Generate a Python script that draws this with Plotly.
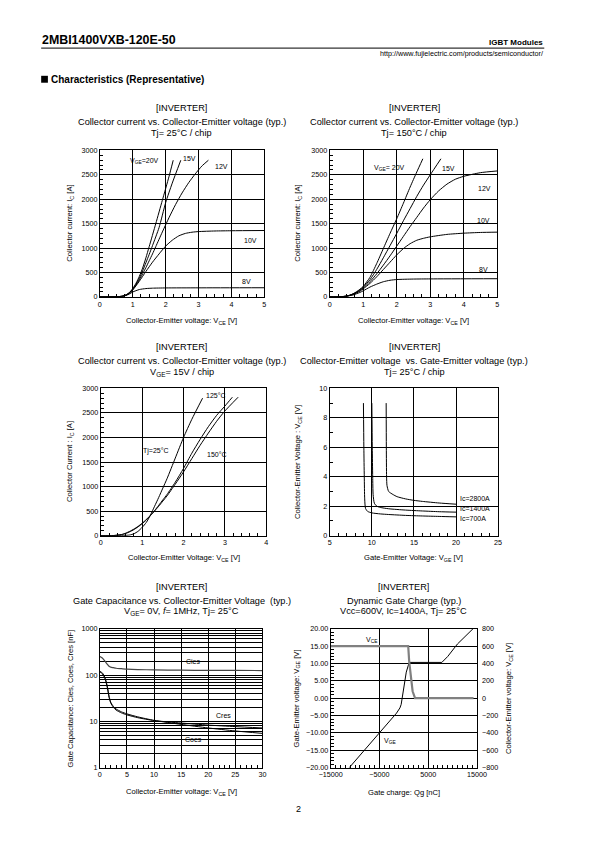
import plotly.graph_objects as go

# page is 595x842; the HTML body has an 8px margin, so the figure is 16px smaller
PAGE_W, PAGE_H = 595, 842
OFF = 8
FW, FH = PAGE_W - 2 * OFF, PAGE_H - 2 * OFF
FONT = "Arial, Liberation Sans, sans-serif"

# ---------------- data ----------------
# Plot 1: Ic vs Vce, Tj=25C
p1_20_x = [0, 0.5, 0.7, 0.8, 0.9, 1.0, 1.1, 1.2, 1.3, 1.4, 1.5, 1.7, 1.9, 2.1, 2.23]
p1_20_y = [0, 3, 15, 40, 90, 170, 280, 420, 590, 800, 1030, 1500, 1980, 2460, 2800]
p1_15_x = [0, 0.5, 0.7, 0.8, 0.9, 1.0, 1.1, 1.2, 1.3, 1.4, 1.5, 1.6, 1.8, 2.0, 2.2, 2.46]
p1_15_y = [0, 3, 15, 40, 85, 160, 260, 380, 530, 700, 870, 1050, 1420, 1930, 2330, 2800]
p1_12_x = [0, 0.5, 0.7, 0.8, 0.9, 1.0, 1.1, 1.2, 1.3, 1.4, 1.5, 1.6, 1.7, 1.9, 2.1, 2.3, 2.5, 2.7, 2.9, 3.1, 3.3]
p1_12_y = [0, 3, 14, 38, 80, 150, 240, 350, 470, 600, 740, 880, 1030, 1330, 1620, 1890, 2130, 2340, 2520, 2680, 2800]
p1_10_x = [0, 0.5, 0.7, 0.8, 0.9, 1.0, 1.2, 1.4, 1.6, 1.8, 2.0, 2.2, 2.4, 2.6, 2.8, 3.0, 3.5, 4.0, 5.0]
p1_10_y = [0, 3, 13, 35, 75, 140, 320, 520, 710, 880, 1040, 1160, 1250, 1300, 1325, 1338, 1350, 1355, 1360]
p1_8_x = [0, 0.5, 0.7, 0.8, 0.9, 1.0, 1.2, 1.4, 1.6, 2.0, 3.0, 5.0]
p1_8_y = [0, 3, 12, 30, 60, 100, 150, 170, 178, 183, 185, 187]

# Plot 2: Ic vs Vce, Tj=150C
p2_20_x = [0, 0.3, 0.5, 0.6, 0.7, 0.8, 0.9, 1.0, 1.2, 1.4, 1.6, 1.8, 2.0, 2.2, 2.4, 2.6, 2.78]
p2_20_y = [0, 3, 15, 35, 65, 105, 155, 215, 400, 680, 990, 1300, 1600, 1920, 2250, 2560, 2830]
p2_15_x = [0, 0.3, 0.5, 0.6, 0.7, 0.8, 0.9, 1.0, 1.2, 1.4, 1.6, 1.8, 2.0, 2.2, 2.4, 2.6, 2.8, 3.0, 3.32]
p2_15_y = [0, 3, 15, 33, 60, 98, 145, 200, 350, 560, 800, 1050, 1300, 1560, 1810, 2060, 2290, 2500, 2830]
p2_12_x = [0, 0.3, 0.5, 0.7, 0.9, 1.0, 1.2, 1.4, 1.6, 1.8, 2.0, 2.2, 2.4, 2.6, 2.8, 3.0, 3.25, 3.5, 3.75, 4.0, 4.5, 5.0]
p2_12_y = [0, 3, 14, 55, 130, 180, 310, 470, 650, 840, 1040, 1240, 1440, 1630, 1820, 1990, 2170, 2310, 2410, 2470, 2545, 2580]
p2_10_x = [0, 0.3, 0.5, 0.7, 0.9, 1.0, 1.2, 1.4, 1.6, 1.8, 2.0, 2.2, 2.4, 2.6, 2.8, 3.0, 3.5, 4.0, 4.5, 5.0]
p2_10_y = [0, 3, 13, 50, 115, 165, 275, 410, 560, 710, 860, 990, 1090, 1160, 1200, 1230, 1280, 1305, 1320, 1326]
p2_8_x = [0, 0.3, 0.5, 0.7, 0.9, 1.0, 1.2, 1.4, 1.6, 1.8, 2.0, 2.5, 3.0, 5.0]
p2_8_y = [0, 3, 12, 40, 90, 125, 200, 260, 310, 340, 355, 365, 368, 372]

# Plot 3: Ic vs Vce, VGE=15V
p3_25_x = [0, 0.5, 0.7, 0.8, 0.9, 1.0, 1.1, 1.2, 1.3, 1.4, 1.5, 1.6, 1.8, 2.0, 2.2, 2.46]
p3_25_y = [0, 3, 15, 40, 90, 170, 270, 420, 600, 780, 970, 1160, 1580, 2000, 2370, 2800]
p3_125_x = [0, 0.3, 0.5, 0.6, 0.7, 0.8, 0.9, 1.0, 1.1, 1.2, 1.3, 1.4, 1.5, 1.6, 1.8, 2.0, 2.2, 2.4, 2.6, 2.8, 3.0, 3.18]
p3_125_y = [0, 3, 20, 45, 80, 125, 180, 245, 320, 410, 510, 620, 730, 840, 1090, 1370, 1680, 1960, 2220, 2450, 2640, 2820]
p3_150_x = [0, 0.3, 0.5, 0.6, 0.7, 0.8, 0.9, 1.0, 1.1, 1.2, 1.3, 1.4, 1.5, 1.6, 1.8, 2.0, 2.2, 2.4, 2.6, 2.8, 3.0, 3.32]
p3_150_y = [0, 4, 25, 52, 90, 135, 190, 255, 330, 415, 505, 600, 705, 810, 1050, 1300, 1570, 1840, 2090, 2330, 2540, 2820]

# Plot 4: Vce vs Vge
p4_700_x = [9.0, 9.05, 9.1, 9.15, 9.25, 9.5, 10, 11, 12, 14, 16, 18, 20]
p4_700_y = [9.0, 6.0, 4.0, 2.5, 1.85, 1.65, 1.55, 1.48, 1.44, 1.38, 1.34, 1.31, 1.28]
p4_1400_x = [10.0, 10.05, 10.1, 10.15, 10.3, 10.6, 11, 12, 14, 16, 18, 20]
p4_1400_y = [9.0, 6.0, 4.0, 2.8, 2.2, 2.0, 1.92, 1.83, 1.74, 1.68, 1.63, 1.6]
p4_2800_x = [11.7, 11.72, 11.75, 11.8, 12.0, 12.5, 13, 14, 15, 16, 18, 20]
p4_2800_y = [9.0, 6.0, 4.0, 3.4, 3.0, 2.8, 2.65, 2.5, 2.4, 2.33, 2.22, 2.14]

# Plot 5: capacitances
p5_vce = [0, 0.5, 1, 1.4, 1.7, 2, 2.5, 3, 4, 5, 7, 10, 15, 20, 25, 30]
p5_cies = [250, 230, 195, 170, 155, 148, 144, 140, 137, 134, 131, 129, 127, 126, 125.5, 125]
p5_coes = [120, 110, 85, 55, 35, 26, 21, 18.5, 16, 14.5, 12.5, 10.5, 8.6, 7.2, 6.2, 5.5]
p5_cres = [118, 105, 80, 52, 33, 25, 20, 17.5, 15.2, 13.8, 12, 10.4, 9.2, 8.3, 7.7, 7.2]

# Plot 6: gate charge
p6_vge_q = [-11200, -5000, -2000, -1500, -800, -550, -400, 0, 500, 1100, 7800, 9000, 11000, 14200]
p6_vge_v = [-20, -10, -5, -4.3, -2.8, -1.8, -0.5, 3, 7.5, 10.3, 10.3, 12.0, 15.6, 20]
p6_vce_q = [-15000, 900, 1100, 1400, 1800, 2300, 14300]
p6_vce_v = [600, 600, 420, 250, 80, 0, 0]

# ---------------- layout geometry (page pixel -> paper) ----------------
def px(x):
    return (x - OFF) / FW

def py(y):
    return 1 - (y - OFF) / FH

fig = go.Figure()

def line(x, y, xa, ya, color="black", width=1.0):
    fig.add_trace(go.Scatter(x=x, y=y, mode="lines", xaxis=xa, yaxis=ya,
                             line=dict(color=color, width=width, shape="spline", smoothing=0.6),
                             showlegend=False, hoverinfo="skip"))

for xs, ys in [(p1_20_x, p1_20_y), (p1_15_x, p1_15_y), (p1_12_x, p1_12_y), (p1_10_x, p1_10_y), (p1_8_x, p1_8_y)]:
    line(xs, ys, "x", "y")
for xs, ys in [(p2_20_x, p2_20_y), (p2_15_x, p2_15_y), (p2_12_x, p2_12_y), (p2_10_x, p2_10_y), (p2_8_x, p2_8_y)]:
    line(xs, ys, "x2", "y2")
for xs, ys in [(p3_25_x, p3_25_y), (p3_125_x, p3_125_y), (p3_150_x, p3_150_y)]:
    line(xs, ys, "x3", "y3")
for xs, ys in [(p4_700_x, p4_700_y), (p4_1400_x, p4_1400_y), (p4_2800_x, p4_2800_y)]:
    line(xs, ys, "x4", "y4")
line(p5_vce, p5_cies, "x5", "y5", color="#444", width=1.2)
line(p5_vce, p5_coes, "x5", "y5")
line(p5_vce, p5_cres, "x5", "y5")
fig.add_trace(go.Scatter(x=p6_vce_q, y=p6_vce_v, mode="lines", xaxis="x6", yaxis="y7",
                         line=dict(color="#808080", width=2.2), showlegend=False, hoverinfo="skip"))
fig.add_trace(go.Scatter(x=p6_vge_q, y=p6_vge_v, mode="lines", xaxis="x6", yaxis="y6",
                         line=dict(color="black", width=1.0), showlegend=False, hoverinfo="skip"))

TICKF = dict(family=FONT, size=7.2, color="black")

def ax(domain, rng, dtick, anchor, minor_dtick=None, tick0=None, **kw):
    d = dict(domain=domain, range=rng, dtick=dtick, anchor=anchor,
             showline=True, mirror=True, linecolor="black", linewidth=1,
             showgrid=True, gridcolor="black", gridwidth=0.8, zeroline=False,
             ticks="", tickfont=TICKF, fixedrange=True)
    if tick0 is not None:
        d["tick0"] = tick0
    if minor_dtick is not None:
        d["minor"] = dict(dtick=minor_dtick, ticks="inside", ticklen=3, tickcolor="black",
                          tickwidth=0.8, showgrid=False)
    d.update(kw)
    return d

ya1 = [py(296), py(148)]
ya3 = [py(537.5), py(388.5)]
ya5 = [py(772), py(631.5)]

fig.update_layout(
    width=FW, height=FH, margin=dict(l=0, r=0, t=0, b=0),
    paper_bgcolor="white", plot_bgcolor="white",
    font=dict(family=FONT, color="black"),
    xaxis=ax([px(91), px(262)], [0, 5], 1, "y", 0.25),
    yaxis=ax(ya1, [0, 3000], 500, "x", 100),
    xaxis2=ax([px(330), px(504)], [0, 5], 1, "y2", 0.25),
    yaxis2=ax(ya1, [0, 3000], 500, "x2", 100),
    xaxis3=ax([px(92), px(264)], [0, 4], 1, "y3", 0.2),
    yaxis3=ax(ya3, [0, 3000], 500, "x3", 100),
    xaxis4=ax([px(330), px(505)], [5, 25], 5, "y4", 1),
    yaxis4=ax(ya3, [0, 10], 2, "x4", 1),
    xaxis5=ax([px(91), px(260)], [0, 30], 5, "y5", 1),
    yaxis5=dict(domain=ya5, type="log", range=[0, 3], dtick=1, anchor="x5",
                showline=True, mirror=True, linecolor="black", linewidth=1,
                showgrid=True, gridcolor="black", gridwidth=0.8, zeroline=False,
                ticks="", tickfont=TICKF, fixedrange=True,
                minor=dict(dtick="D1", showgrid=True, gridcolor="black", gridwidth=0.6, ticks="")),
    xaxis6=ax([px(331), px(483)], [-15000, 15000], 10000, "y6", 1000, tick0=-15000, tickformat="d"),
    yaxis6=ax(ya5, [-20, 20], 5, "x6", 1, tickformat=".2f"),
    yaxis7=dict(domain=ya5, range=[-800, 800], dtick=200, anchor="x6", overlaying="y6",
                side="right", showgrid=False, zeroline=False, showline=False,
                ticks="", tickfont=TICKF, fixedrange=True, ticklabelstandoff=4),
)

ann = []

def text(x, y, s, size=9, xanchor="center", bold=False, angle=0, xref="paper", yref="paper"):
    if bold:
        s = "<b>" + s + "</b>"
    ann.append(dict(x=x, y=y, xref=xref, yref=yref, text=s, showarrow=False,
                    xanchor=xanchor, yanchor="middle", textangle=angle, borderpad=0,
                    font=dict(family=FONT, size=size, color="black")))

# header
text(px(30), py(36), "2MBI1400VXB-120E-50", size=12.4, xanchor="left", bold=True)
text(px(553), py(39), "IGBT Modules", size=8.0, xanchor="right", bold=True)
text(px(553), py(50), "http://www.fujielectric.com/products/semiconductor/", size=7.2, xanchor="right")
text(px(39), py(76), "Characteristics (Representative)", size=10, xanchor="left", bold=True)
text(px(297), py(814), "2", size=9)

# chart titles
TS = 9.2
def titles(cx, y0, lines):
    for i, s in enumerate(lines):
        text(px(cx), py(y0 + [0, 14, 25][i]), s, size=TS)

titles(176, 105, ["[INVERTER]", "Collector current vs. Collector-Emitter voltage (typ.)", "Tj= 25°C / chip"])
titles(418, 105, ["[INVERTER]", "Collector current vs. Collector-Emitter voltage (typ.)", "Tj= 150°C / chip"])
titles(176, 347, ["[INVERTER]", "Collector current vs. Collector-Emitter voltage (typ.)", "V<sub>GE</sub>= 15V / chip"])
titles(418, 347, ["[INVERTER]", "Collector-Emitter voltage  vs. Gate-Emitter voltage (typ.)", "Tj= 25°C / chip"])
titles(176, 589, ["[INVERTER]", "Gate Capacitance vs. Collector-Emitter Voltage  (typ.)", "V<sub>GE</sub>= 0V, <i>f</i>= 1MHz, Tj= 25°C"])
titles(407, 589, ["[INVERTER]", "Dynamic Gate Charge (typ.)", "Vcc=600V, Ic=1400A, Tj= 25°C"])

# axis titles
AX = 7.6
text(px(176), py(320), "Collector-Emitter voltage: V<sub>CE</sub> [V]", size=AX)
text(px(417), py(320), "Collector-Emitter voltage: V<sub>CE</sub> [V]", size=AX)
text(px(178), py(560), "Collector-Emitter Voltage: V<sub>CE</sub> [V]", size=AX)
text(px(417), py(560), "Gate-Emitter Voltage: V<sub>GE</sub> [V]", size=AX)
text(px(176), py(797), "Collector-Emitter voltage: V<sub>CE</sub> [V]", size=AX)
text(px(407), py(797), "Gate charge: Qg [nC]", size=AX)

text(px(60), py(222), "Collector current: I<sub>C</sub> [A]", size=AX, angle=-90)
text(px(297), py(222), "Collector current: I<sub>C</sub> [A]", size=AX, angle=-90)
text(px(60), py(463), "Collector Current : I<sub>C</sub> [A]", size=AX, angle=-90)
text(px(297), py(463), "Collector-Emitter Voltage : V<sub>CE</sub> [V]", size=AX, angle=-90)
text(px(60), py(702), "Gate Capacitance: Cies, Coes, Cres [nF]", size=AX, angle=-90)
text(px(296), py(702), "Gate-Emitter voltage: V<sub>GE</sub> [V]", size=AX, angle=-90)
text(px(517), py(702), "Collector-Emitter voltage: V<sub>CE</sub> [V]", size=AX, angle=-90)

# in-plot labels
L = 7
text(1.35, 2790, "V<sub>GE</sub>=20V", size=L, xref="x", yref="y")
text(2.74, 2840, "15V", size=L, xref="x", yref="y")
text(3.7, 2680, "12V", size=L, xref="x", yref="y")
text(4.59, 1160, "10V", size=L, xref="x", yref="y")
text(4.47, 320, "8V", size=L, xref="x", yref="y")

text(1.77, 2650, "V<sub>GE</sub>= 20V", size=L, xref="x2", yref="y2")
text(3.56, 2625, "15V", size=L, xref="x2", yref="y2")
text(4.63, 2220, "12V", size=L, xref="x2", yref="y2")
text(4.6, 1560, "10V", size=L, xref="x2", yref="y2")
text(4.6, 560, "8V", size=L, xref="x2", yref="y2")

text(2.79, 2860, "125°C", size=L, xref="x3", yref="y3")
text(1.33, 1717, "Tj=25°C", size=L, xref="x3", yref="y3")
text(2.81, 1650, "150°C", size=L, xref="x3", yref="y3")

text(20.4, 2.5, "Ic=2800A", size=L, xanchor="left", xref="x4", yref="y4")
text(20.4, 1.82, "Ic=1400A", size=L, xanchor="left", xref="x4", yref="y4")
text(20.4, 1.19, "Ic=700A", size=L, xanchor="left", xref="x4", yref="y4")

for xv, yv, s in [(17.2, 2.29, "Cies"), (22.8, 1.136, "Cres"), (17.2, 0.604, "Coes")]:
    ann.append(dict(x=xv, y=yv, xref="x5", yref="y5", text=s, showarrow=False,
                    font=dict(family=FONT, size=L, color="black")))

text(-6440, 16.8, "V<sub>CE</sub>", size=L, xref="x6", yref="y6")
text(-2840, -12.3, "V<sub>GE</sub>", size=L, xref="x6", yref="y6")

fig.update_layout(annotations=ann)

# header rule and section bullet
fig.add_shape(type="line", xref="paper", yref="paper", x0=px(30), x1=px(553), y0=py(44.5), y1=py(44.5),
              line=dict(color="black", width=1))
fig.add_shape(type="rect", xref="paper", yref="paper", x0=px(30), x1=px(37), y0=py(79.5), y1=py(72.5),
              line=dict(width=0), fillcolor="black")

fig.write_html("out.html")
